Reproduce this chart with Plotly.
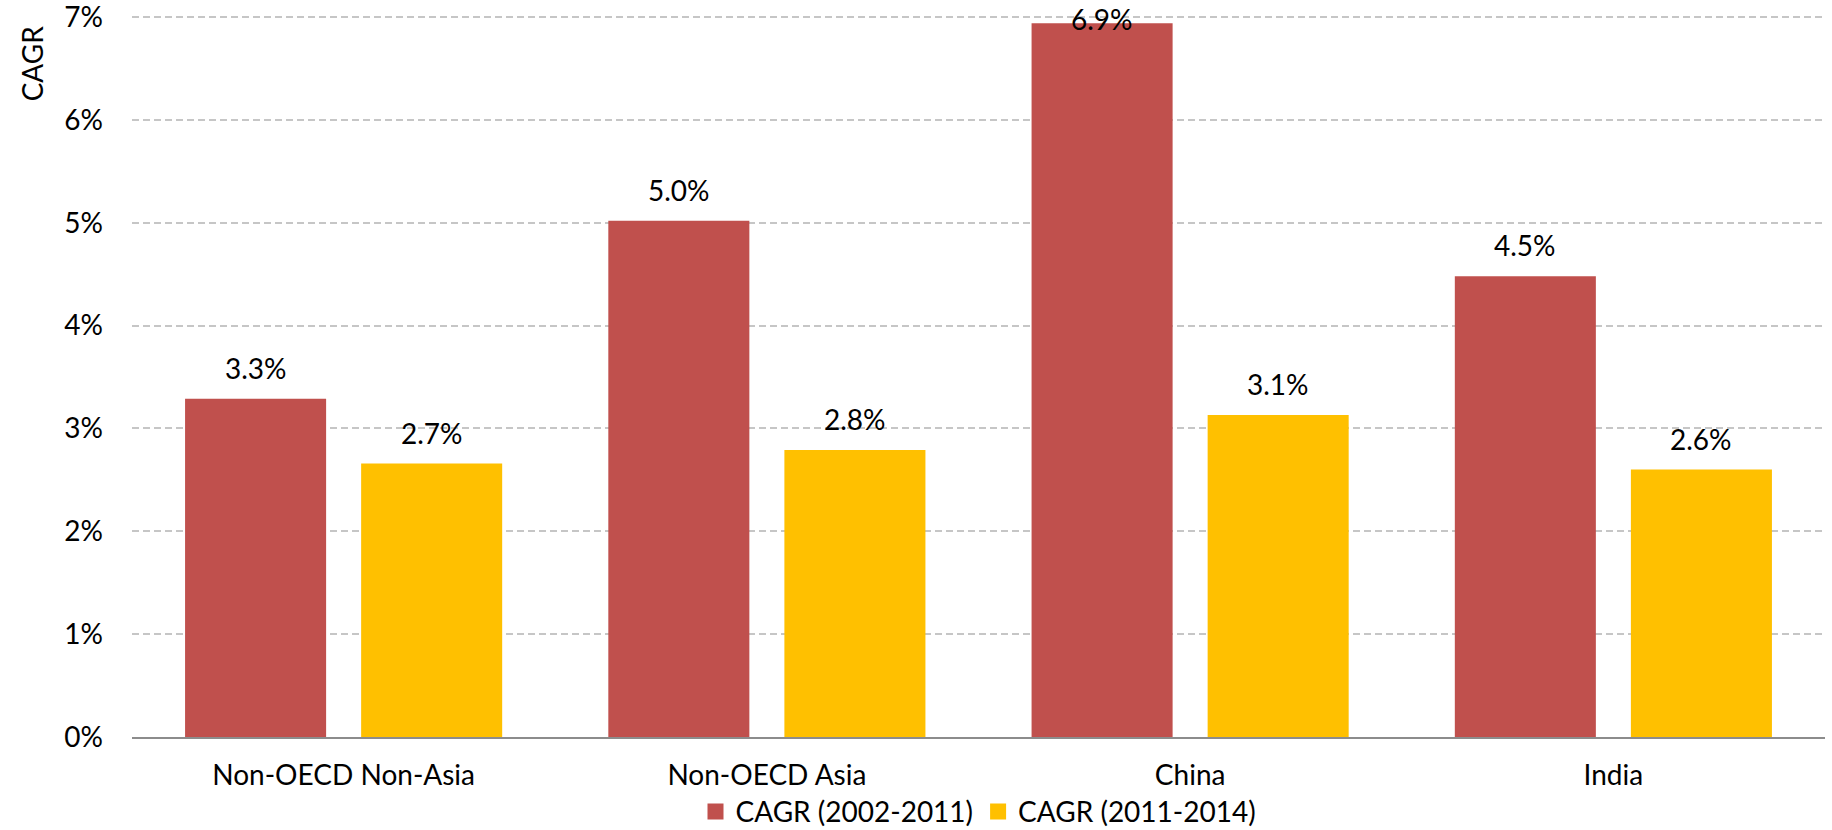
import plotly.graph_objects as go

categories = ["Non-OECD Non-Asia", "Non-OECD Asia", "China", "India"]
cagr_2002_2011 = [3.29, 5.02, 6.94, 4.48]
cagr_2011_2014 = [2.66, 2.79, 3.13, 2.60]
series_names = ["CAGR (2002-2011)", "CAGR (2011-2014)"]
y_tick_values = [0, 1, 2, 3, 4, 5, 6, 7]
y_tick_labels = ["0%", "1%", "2%", "3%", "4%", "5%", "6%", "7%"]

RED = "#C0504D"
GOLD = "#FFC000"
FONT = "Lato, 'Open Sans', sans-serif"
MAIN_SIZE = 28
LEGEND_SIZE = 28
Y_TOP = 7.02

fig = go.Figure()
series = [
    (series_names[0], cagr_2002_2011, RED),
    (series_names[1], cagr_2011_2014, GOLD),
]
for name, vals, color in series:
    fig.add_trace(go.Bar(
        x=categories, y=vals, name=name, showlegend=False,
        marker=dict(color=color, line=dict(width=0)),
    ))

# legend entries with larger square swatches
for name, _, color in series:
    fig.add_trace(go.Scatter(
        x=[None], y=[None], name=name, mode="markers",
        marker=dict(symbol="square", size=16, color=color),
    ))

# value labels above each bar, kept inside the chart area near the top
slot_px = 88
annotations = []
for vals, shift in [(cagr_2002_2011, -slot_px), (cagr_2011_2014, slot_px)]:
    for cat, v in zip(categories, vals):
        annotations.append(dict(
            x=cat, xref="x", y=min(v + 0.115, 6.80), yref="y",
            xshift=shift, yanchor="bottom", xanchor="center",
            text=f"{v:.1f}%", showarrow=False,
            font=dict(family=FONT, size=MAIN_SIZE, color="#000000"),
        ))

annotations.append(dict(
    text="CAGR", textangle=-90, showarrow=False,
    xref="paper", x=(32 - 132) / 1693, xanchor="center",
    yref="y", y=6.55, yanchor="middle",
    font=dict(family=FONT, size=MAIN_SIZE, color="#000000"),
))

fig.update_layout(
    template="none",
    width=1832, height=830,
    margin=dict(l=132, r=7, t=15, b=92.5, autoexpand=False),
    paper_bgcolor="white", plot_bgcolor="white",
    barmode="group", bargap=0.168, bargroupgap=0.199,
    font=dict(family=FONT, size=MAIN_SIZE, color="#000000"),
    showlegend=True,
    legend=dict(
        orientation="h", xref="paper", yref="container",
        x=0.5, xanchor="center", y=0.022, yanchor="middle",
        font=dict(family=FONT, size=LEGEND_SIZE, color="#000000"),
        itemsizing="trace", tracegroupgap=0,
        bgcolor="rgba(0,0,0,0)",
    ),
    annotations=annotations,
)

fig.update_xaxes(
    automargin=False,
    showline=True, linecolor="#8C8C8C", linewidth=2,
    showgrid=False, zeroline=False, ticks="", ticklabelstandoff=12,
    tickfont=dict(family=FONT, size=MAIN_SIZE, color="#000000"),
)
fig.update_yaxes(
    automargin=False,
    range=[0, Y_TOP], tickvals=y_tick_values, ticktext=y_tick_labels,
    showgrid=True, gridcolor="#C6C6C6", gridwidth=2, griddash="7px,4px",
    zeroline=False, showline=False, ticks="", ticklabelstandoff=28,
    ticklabeloverflow="allow",
    tickfont=dict(family=FONT, size=MAIN_SIZE, color="#000000"),
)

fig.write_html("out.html")
